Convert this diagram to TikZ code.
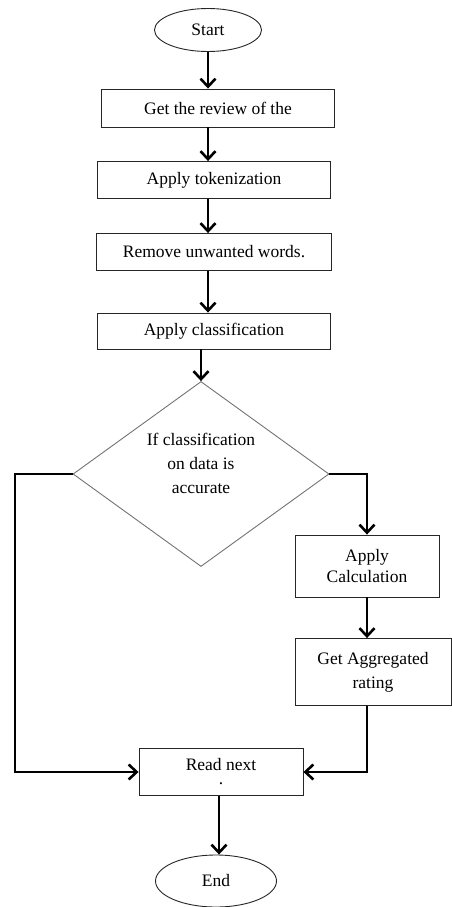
\documentclass[tikz,border=0pt]{standalone}
\usepackage{fontspec}
\setmainfont{Liberation Serif}
\usetikzlibrary{arrows.meta,shapes.geometric,positioning}

\begin{document}
\begin{tikzpicture}[x=1pt,y=-1pt,font=\fontsize{17.5}{24}\selectfont]
\tikzset{terminal/.style ={draw=black!85,line width=0.9pt,ellipse,inner sep=0pt},
         process/.style ={draw=black!85,line width=0.9pt,rectangle,inner sep=0pt,align=center},
         decision/.style ={draw=black!55,line width=0.9pt,diamond,inner sep=0pt,aspect=1.38,minimum width=256pt,minimum height=185pt},
         flow/.style ={line width=2.6pt,-{Straight Barb[length=8pt,width=15pt]}}}
\useasboundingbox (0,0) rectangle (452,907);
% \fill[white] (0,0) rectangle (452,907);
    \node[terminal,minimum width=107pt,minimum height=43pt] (start) at (208,30) {Start};
    \node[process,minimum width=233pt,minimum height=38pt] (review) at (218,108) {Get the review of the};
    \node[process,minimum width=233pt,minimum height=37pt] (token) at (214,180) {Apply tokenization};
    \node[process,minimum width=235pt,minimum height=37pt] (remove) at (214,252) {Remove unwanted words.};
    \node[process,minimum width=233pt,minimum height=36pt] (classify) at (214,331) {Apply classification};
    \node[decision] (check) at (201,474) {};
    \node[align=center] (checktext) at (201,463) {If classification\\on data is\\accurate};
    \node[process,minimum width=144pt,minimum height=62pt,font=\fontsize{17.5}{21}\selectfont] (calc) at (367,566) {Apply\\Calculation};
    \node[process,minimum width=156pt,minimum height=67pt] (aggregate) at (373,672) {Get Aggregated\\rating};
    \node[process,minimum width=164pt,minimum height=47pt,font=\fontsize{17.5}{14}\selectfont] (readnext) at (221,772) {Read next\\.};
    \node[terminal,minimum width=121pt,minimum height=52pt] (stop) at (216,881) {End};
% main line
    \draw[flow] (start) -- (start |- review.north);
    \draw[flow] (review.south -| start) -- (token.north -| start);
    \draw[flow] (token.south -| start) -- (remove.north -| start);
    \draw[flow] (remove.south -| start) -- (classify.north -| start);
    \draw[flow] (classify.south -| check) -- (check.north);
% branches
    \coordinate (leftturn) at (15,474);
    \coordinate (rightturn) at (calc.north |- check.east);
    \draw[flow] (check.west) -- (leftturn) |- (readnext.west);
    \draw[flow] (check.east) -- (rightturn) -- (calc.north);
    \draw[flow] (calc.south) -- (calc.south |- aggregate.north);
    \draw[flow] (aggregate.south -| calc) |- (readnext.east);
    \draw[flow] (readnext.south -| 219,0) -- (stop.north -| 219,0);
\end{tikzpicture}
\end{document}
